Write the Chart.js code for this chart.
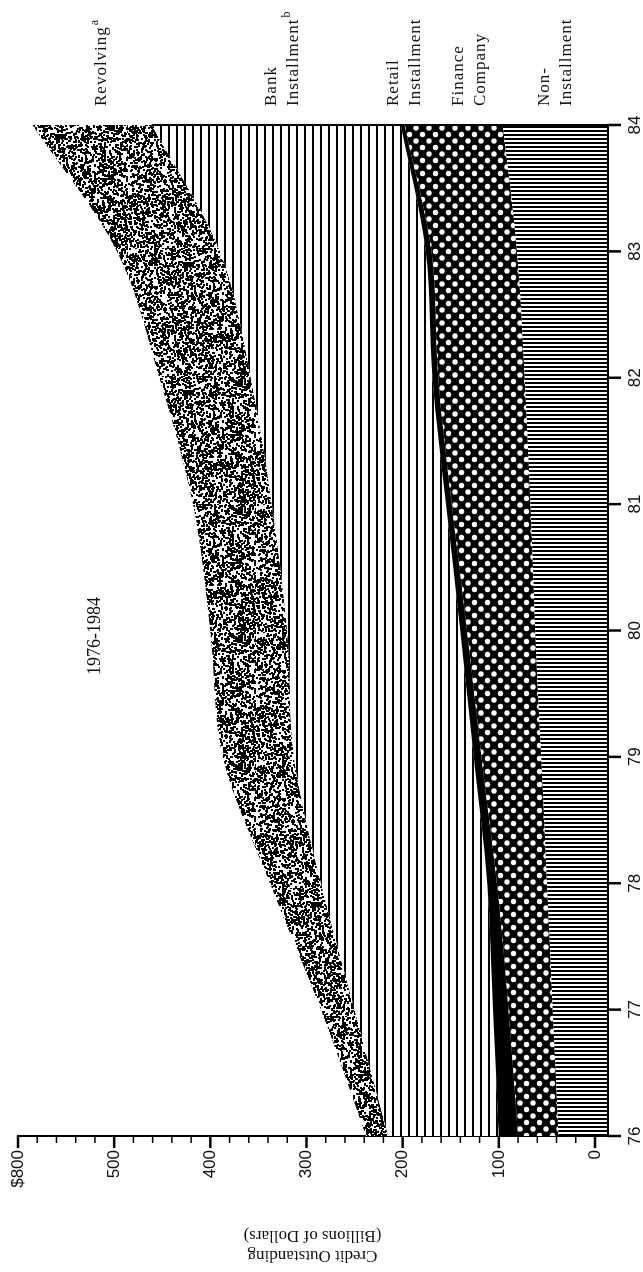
<!DOCTYPE html>
<html>
<head>
<meta charset="utf-8">
<script src="https://cdn.jsdelivr.net/npm/chart.js@4.4.1/dist/chart.umd.min.js"></script>
<style>
  html, body { margin: 0; padding: 0; background: #fff; overflow: hidden; }
  #page { position: relative; width: 643px; height: 1272px; overflow: hidden; }
  /* the chart is drawn upright, then turned a quarter turn to the left */
  #turn { position: absolute; left: 0; top: 0; width: 1272px; height: 643px;
          transform-origin: 0 0; transform: translate(0, 1272px) rotate(-90deg); }
</style>
</head>
<body>
<div id="page"><div id="turn"><canvas id="credit" width="1272" height="643"></canvas></div></div>
<script>
let years = [1976, 1977, 1978, 1979, 1980, 1981, 1982, 1983, 1984];
let yearLabels = ['76', '77', '78', '79', '80', '81', '82', '83', '84'];
let valueLabels = ['0', '100', '200', '300', '400', '500', '$800'];

// billions of dollars, stacked bottom to top
let nonInstallment = [38, 44, 50, 56, 62, 67, 73, 81, 96];
let financeCompany = [42, 46, 52, 62, 71, 82, 90, 89, 102];
let retailInstallment = [20, 16, 10, 8, 7, 6, 6, 6, 4];
let bankInstallment = [115, 144, 173, 187, 180, 181, 189, 214, 259];
let revolving = [23, 35, 53, 74, 80, 82, 95, 107, 124];

let canvas = document.getElementById('credit');
let ctx = canvas.getContext('2d');

function tile(w, h, draw) {
    let c = document.createElement('canvas');
    c.width = w;
    c.height = h;
    let g = c.getContext('2d');
    g.fillStyle = '#fff';
    g.fillRect(0, 0, w, h);
    g.fillStyle = '#000';
    draw(g, w, h);
    return ctx.createPattern(c, 'repeat');
}

// fixed seed so the stipple looks the same every time
let seed = 12345;
function speck() {
    seed = (seed * 16807) % 2147483647;
    return seed / 2147483647;
}

let stipple = tile(128, 128, (g, w, h) => {
    for (let i = 0; i < 3600; i++) {
        g.fillRect(Math.floor(speck() * w), Math.floor(speck() * h), 2, 2);
    }
});
let rulesFlat = tile(8, 8, (g) => g.fillRect(0, 0, 8, 2));
let rulesUp = tile(4, 4, (g) => g.fillRect(0, 0, 2, 4));
let solid = '#000';
let lattice = tile(13, 13, (g) => {
    g.fillRect(0, 0, 13, 13);
    g.fillStyle = '#fff';
    [[0, 0], [13, 0], [0, 13], [13, 13], [6.5, 6.5]].forEach(p => {
        g.beginPath();
        g.arc(p[0], p[1], 2.7, 0, Math.PI * 2);
        g.fill();
    });
});

function points(values) {
    return values.map((v, i) => ({ x: years[i], y: v }));
}

function series(label, values, fill, bg) {
    return {
        label: label,
        data: points(values),
        fill: fill,
        backgroundColor: bg,
        borderColor: 'rgba(0,0,0,0)',
        borderWidth: 1,
        pointRadius: 0,
        cubicInterpolationMode: 'monotone'
    };
}

let labelLines = [
    { text: 'Revolving', sup: 'a', at: 509 },
    { text: 'Bank', at: 332 },
    { text: 'Installment', sup: 'b', at: 309 },
    { text: 'Retail', at: 205 },
    { text: 'Installment', at: 182 },
    { text: 'Finance', at: 137 },
    { text: 'Company', at: 114 },
    { text: 'Non-', at: 48 },
    { text: 'Installment', at: 25 }
];

let axisMarks = {
    id: 'axisMarks',
    afterDraw(chart) {
        let { ctx, chartArea, scales: { x, y } } = chart;
        ctx.save();
        ctx.strokeStyle = '#000';
        y.ticks.forEach(t => {
            let py = y.getPixelForValue(t.value);
            let major = t.value % 100 === 0;
            ctx.lineWidth = major ? 2.5 : 1.5;
            ctx.beginPath();
            ctx.moveTo(chartArea.left, py);
            ctx.lineTo(chartArea.left - (major ? 12 : 7), py);
            ctx.stroke();
        });
        ctx.lineWidth = 2.5;
        x.ticks.forEach(t => {
            let px = x.getPixelForValue(t.value);
            ctx.beginPath();
            ctx.moveTo(px, chartArea.bottom);
            ctx.lineTo(px, chartArea.bottom + 14);
            ctx.stroke();
        });
        // closing edge at the 1984 end of the bands
        let bankTop = chart.getDatasetMeta(3).data[years.length - 1];
        ctx.lineWidth = 2;
        ctx.beginPath();
        ctx.moveTo(chartArea.right, bankTop.y);
        ctx.lineTo(chartArea.right, chartArea.bottom);
        ctx.stroke();
        ctx.restore();
    }
};

let seriesLabels = {
    id: 'seriesLabels',
    afterDraw(chart) {
        let { ctx, chartArea, scales: { y } } = chart;
        ctx.save();
        ctx.fillStyle = '#111';
        ctx.textAlign = 'left';
        ctx.textBaseline = 'alphabetic';
        let left = chartArea.right + 19;
        labelLines.forEach(l => {
            let py = y.getPixelForValue(l.at);
            ctx.font = '17px "Liberation Serif", serif';
            ctx.letterSpacing = '1px';
            ctx.fillText(l.text, left, py);
            if (l.sup) {
                let w = ctx.measureText(l.text).width;
                ctx.font = '12px "Liberation Serif", serif';
                ctx.letterSpacing = '0px';
                ctx.fillText(l.sup, left + w + 1, py - 8);
            }
        });
        ctx.font = '18px "Liberation Serif", serif';
        ctx.letterSpacing = '0px';
        ctx.textAlign = 'center';
        ctx.fillText('1976-1984', 636, 100);
        ctx.restore();
    }
};

let creditChart = new Chart(ctx, {
    type: 'line',
    data: {
        datasets: [
            series('Non-Installment', nonInstallment, 'start', rulesUp),
            series('Finance Company', financeCompany, '-1', lattice),
            series('Retail Installment', retailInstallment, '-1', solid),
            series('Bank Installment', bankInstallment, '-1', rulesFlat),
            series('Revolving', revolving, '-1', stipple)
        ]
    },
    options: {
        responsive: false,
        animation: false,
        devicePixelRatio: 1,
        layout: {
            padding: { top: 18, right: 125, left: 0, bottom: 0 }
        },
        plugins: {
            legend: { display: false },
            tooltip: { enabled: false }
        },
        scales: {
            x: {
                type: 'linear',
                min: 1976,
                max: 1984,
                afterFit: (scale) => { scale.height = 36; },
                grid: { display: false, drawTicks: true, tickLength: 14 },
                border: { display: true, color: '#000', width: 3 },
                ticks: {
                    stepSize: 1,
                    padding: 4,
                    maxRotation: 0,
                    color: '#111',
                    font: { family: '"Liberation Sans Narrow", "Liberation Sans", sans-serif', size: 17 },
                    callback: (v) => yearLabels[years.indexOf(v)]
                }
            },
            y: {
                stacked: true,
                min: -12.5,
                max: 600,
                afterFit: (scale) => { scale.width = 136; },
                // ticks every 20 from 0, the baseline sits a little below zero
                afterBuildTicks: (scale) => {
                    let marks = [];
                    for (let v = 0; v <= 600; v += 20) marks.push({ value: v });
                    scale.ticks = marks;
                },
                grid: { display: false, drawTicks: true, tickLength: 12 },
                border: { display: true, color: '#000', width: 2 },
                title: {
                    display: true,
                    text: ['Credit Outstanding', '(Billions of Dollars)'],
                    color: '#111',
                    padding: { top: 6, bottom: 0 },
                    font: { family: '"Liberation Serif", serif', size: 17, lineHeight: 1.2 }
                },
                ticks: {
                    autoSkip: false,
                    padding: 2,
                    color: '#111',
                    font: { family: '"Liberation Sans", sans-serif', size: 17 },
                    callback: (v) => v % 100 === 0 ? valueLabels[v / 100] : ''
                }
            }
        }
    },
    plugins: [axisMarks, seriesLabels]
});
</script>
</body>
</html>
